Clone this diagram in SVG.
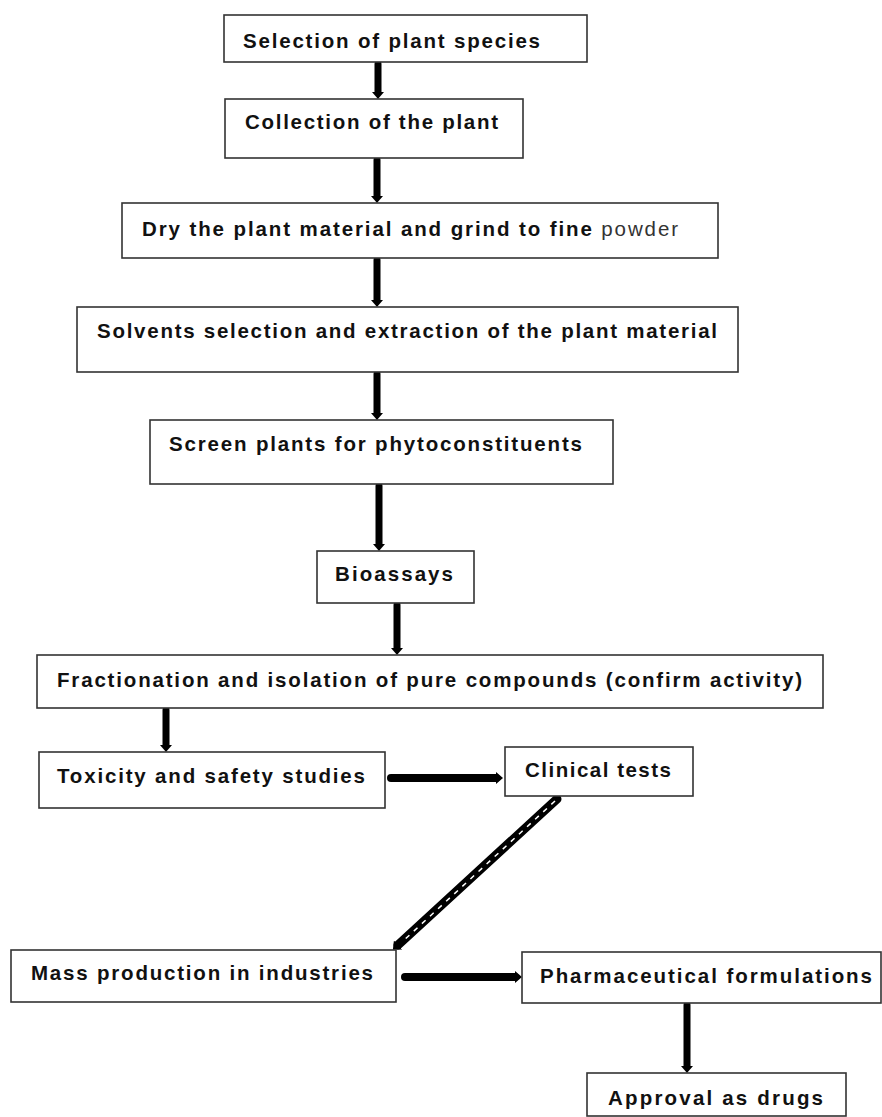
<svg xmlns="http://www.w3.org/2000/svg" width="882" height="1117" viewBox="0 0 882 1117">
<style>
  .box { fill: #ffffff; stroke: #333333; stroke-width: 1.6; }
  .t { font-family: "Liberation Sans", Arial, sans-serif; font-weight: bold; font-size: 20.5px; fill: #111111; }
  .r { font-weight: normal; fill: #333333; }
  .arr { stroke: #000000; stroke-width: 7; fill: none; stroke-linecap: round; }
  .harr { stroke: #000000; stroke-width: 8; fill: none; stroke-linecap: round; }
</style>
<defs>
  <marker id="head" viewBox="0 -6 7 12" refX="0" refY="0" markerWidth="7" markerHeight="12" markerUnits="userSpaceOnUse" orient="auto">
    <path d="M0,-6 L7,0 L0,6 z" fill="#000000"/>
  </marker>
</defs>
<rect width="882" height="1117" fill="#ffffff"/>

<g id="connectors">
  <line class="arr" x1="378" y1="64" x2="378" y2="92" marker-end="url(#head)"/>
  <line class="arr" x1="377" y1="160" x2="377" y2="196" marker-end="url(#head)"/>
  <line class="arr" x1="377" y1="260" x2="377" y2="300" marker-end="url(#head)"/>
  <line class="arr" x1="377" y1="374" x2="377" y2="413" marker-end="url(#head)"/>
  <line class="arr" x1="379" y1="486" x2="379" y2="544" marker-end="url(#head)"/>
  <line class="arr" x1="397" y1="605" x2="397" y2="648" marker-end="url(#head)"/>
  <line class="arr" x1="166" y1="710" x2="166" y2="745" marker-end="url(#head)"/>
  <line class="harr" x1="391" y1="778" x2="496" y2="778" marker-end="url(#head)"/>
  <g id="diag">
    <line x1="557" y1="799" x2="398" y2="945" stroke="#000000" stroke-width="9" stroke-linecap="round" marker-end="url(#head)"/>
    <line x1="555" y1="801" x2="402" y2="942" stroke="#ffffff" stroke-width="1.5" stroke-dasharray="5 6"/>
  </g>
  <line class="harr" x1="405" y1="977" x2="515" y2="977" marker-end="url(#head)"/>
  <line class="arr" x1="687" y1="1005" x2="687" y2="1066" marker-end="url(#head)"/>
</g>

<g id="n1"><rect class="box" x="224" y="15" width="363" height="47"/><text class="t" x="243" y="48" textLength="297" lengthAdjust="spacing">Selection of plant species</text></g>
<g id="n2"><rect class="box" x="225" y="99" width="298" height="59"/><text class="t" x="245" y="129" textLength="253" lengthAdjust="spacing">Collection of the plant</text></g>
<g id="n3"><rect class="box" x="122" y="203" width="596" height="55"/><text class="t" x="142" y="236" textLength="536" lengthAdjust="spacing">Dry the plant material and grind to fine <tspan class="r">powder</tspan></text></g>
<g id="n4"><rect class="box" x="77" y="307" width="661" height="65"/><text class="t" x="97" y="338" textLength="620" lengthAdjust="spacing">Solvents selection and extraction of the plant material</text></g>
<g id="n5"><rect class="box" x="150" y="420" width="463" height="64"/><text class="t" x="169" y="451" textLength="413" lengthAdjust="spacing">Screen plants for phytoconstituents</text></g>
<g id="n6"><rect class="box" x="317" y="551" width="157" height="52"/><text class="t" x="335" y="581" textLength="118" lengthAdjust="spacing">Bioassays</text></g>
<g id="n7"><rect class="box" x="37" y="655" width="786" height="53"/><text class="t" x="57" y="687" textLength="745" lengthAdjust="spacing">Fractionation and isolation of pure compounds (confirm activity)</text></g>
<g id="n8"><rect class="box" x="39" y="752" width="346" height="56"/><text class="t" x="57" y="783" textLength="308" lengthAdjust="spacing">Toxicity and safety studies</text></g>
<g id="n9"><rect class="box" x="505" y="747" width="188" height="49"/><text class="t" x="525" y="777" textLength="146" lengthAdjust="spacing">Clinical tests</text></g>
<g id="n10"><rect class="box" x="11" y="950" width="385" height="52"/><text class="t" x="31" y="980" textLength="342" lengthAdjust="spacing">Mass production in industries</text></g>
<g id="n11"><rect class="box" x="522" y="952" width="359" height="51"/><text class="t" x="540" y="983" textLength="332" lengthAdjust="spacing">Pharmaceutical formulations</text></g>
<g id="n12"><rect class="box" x="587" y="1073" width="259" height="43"/><text class="t" x="608" y="1105" textLength="215" lengthAdjust="spacing">Approval as drugs</text></g>
</svg>
